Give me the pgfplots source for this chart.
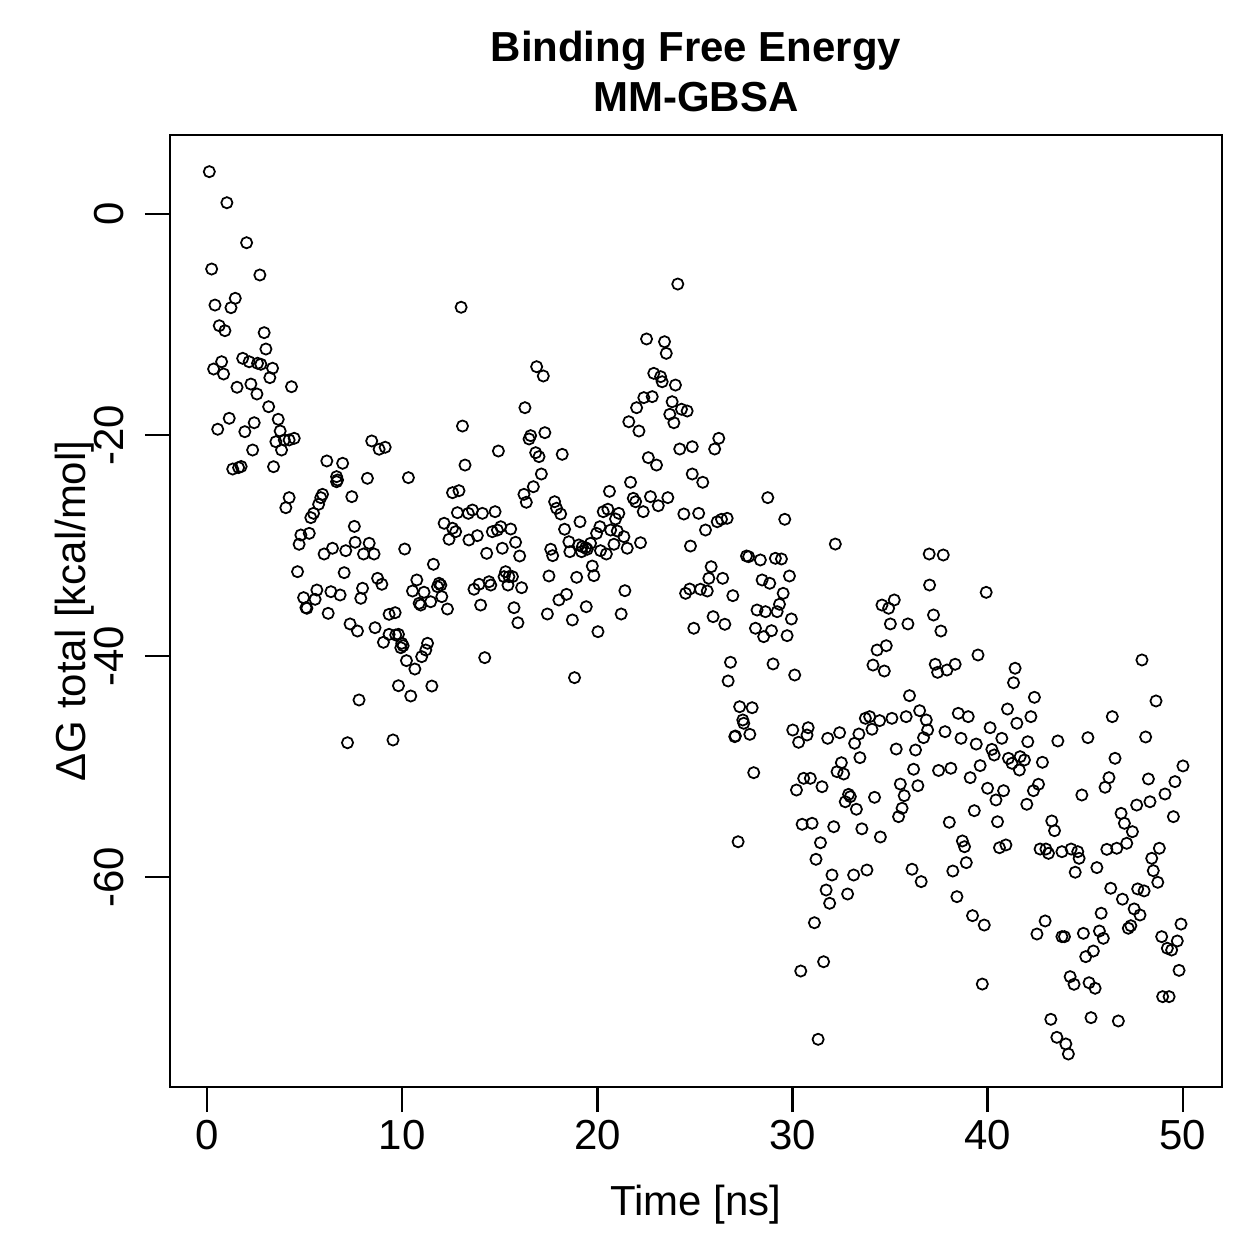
\documentclass[border=0pt]{standalone}
\usepackage{fontspec}
\setmainfont{Liberation Sans}
\usepackage{pgfplots}
\pgfplotsset{compat=1.18}
\begin{document}
\begin{tikzpicture}
\path[use as bounding box] (0,0) rectangle (360pt,360pt);
\begin{axis}[
  at={(48.6pt,49.2pt)}, anchor=south west,
  width=300.8pt, height=272.2pt, scale only axis,
  xmin=-1.896, xmax=51.996, ymin=-79.0, ymax=7.15,
  axis line style={line width=0.75pt},
  tick style={line width=0.75pt, black},
  tick align=outside, major tick length=7.2pt,
  xtick={0,10,20,30,40,50}, ytick={-60,-40,-20,0},
  xtick pos=left, ytick pos=left,
  xticklabels={0,10,20,30,40,50},
  yticklabels={-60,-40,-20,0},
  font=\fontsize{12}{14.4}\selectfont,
  xticklabel style={anchor=center, yshift=-6.5pt},
  yticklabel style={rotate=90, anchor=center, yshift=10.3pt},
  xlabel={Time [ns]},
  ylabel={ΔG total [kcal/mol]},
  xlabel style={at={(axis description cs:0.5,-0.1235)}, anchor=center},
  ylabel style={at={(axis description cs:-0.0903,0.5)}, anchor=center},
  title={Binding Free Energy\\MM-GBSA},
  title style={at={(axis description cs:0.5,1.0662)}, anchor=center, yshift=-6pt, align=center, font=\bfseries\fontsize{12}{14.3}\selectfont},
]
\addplot[only marks, mark=o, mark size=1.6pt, mark options={line width=0.5pt, black}] table {
x y
0.12 3.83
1.02 1.02
2.03 -2.60
0.24 -4.98
2.71 -5.52
1.45 -7.63
0.41 -8.24
1.23 -8.48
0.63 -10.11
0.92 -10.56
2.93 -10.74
3.02 -12.22
1.83 -13.06
2.16 -13.37
0.75 -13.37
0.34 -14.03
0.85 -14.48
2.59 -13.51
2.76 -13.60
3.36 -13.96
3.22 -14.81
1.54 -15.68
2.25 -15.39
2.56 -16.29
4.33 -15.63
3.16 -17.44
1.14 -18.49
0.55 -19.48
2.42 -18.89
1.94 -19.70
3.65 -18.58
3.75 -19.64
3.53 -20.61
3.96 -20.45
4.21 -20.45
4.47 -20.30
3.82 -21.36
2.34 -21.36
1.32 -23.08
1.62 -22.95
1.75 -22.85
3.41 -22.87
6.14 -22.35
6.95 -22.56
6.64 -23.77
6.69 -24.07
6.64 -24.23
8.22 -23.92
4.21 -25.67
4.04 -26.58
5.92 -25.37
5.83 -25.67
5.72 -26.27
5.46 -27.09
5.32 -27.48
7.42 -25.58
7.55 -28.27
4.81 -29.05
5.24 -28.90
4.72 -29.89
7.59 -29.71
6.43 -30.25
6.00 -30.77
7.11 -30.47
8.02 -30.77
4.64 -32.37
7.03 -32.46
5.63 -34.03
4.95 -34.72
5.54 -34.87
5.07 -35.63
5.12 -35.68
6.35 -34.18
6.82 -34.48
7.97 -33.87
7.88 -34.78
6.21 -36.14
7.33 -37.10
7.71 -37.74
7.79 -43.98
7.20 -47.85
13.02 -8.44
16.29 -17.53
13.09 -19.19
16.50 -20.36
16.58 -20.06
8.44 -20.54
8.82 -21.29
9.13 -21.11
14.93 -21.45
13.22 -22.72
10.32 -23.86
12.58 -25.22
12.91 -25.04
16.24 -25.37
16.36 -26.09
12.83 -27.03
13.39 -27.09
13.60 -26.79
14.11 -27.09
14.76 -26.94
12.15 -27.99
12.58 -28.44
12.74 -28.75
12.40 -29.44
13.42 -29.50
13.85 -29.11
14.62 -28.75
14.88 -28.60
15.05 -28.30
15.56 -28.51
15.13 -30.25
15.81 -29.71
16.02 -30.95
14.33 -30.71
8.31 -29.80
8.56 -30.77
10.13 -30.32
11.60 -31.70
8.74 -32.97
8.96 -33.51
10.75 -33.12
10.53 -34.12
11.12 -34.23
11.89 -33.42
11.81 -33.73
11.98 -33.58
12.03 -34.63
11.46 -35.09
10.87 -35.23
10.95 -35.39
12.32 -35.75
9.33 -36.23
9.64 -36.08
13.68 -33.96
13.94 -33.51
14.45 -33.28
14.54 -33.58
15.30 -32.37
15.22 -32.82
15.47 -32.82
15.65 -32.82
15.42 -33.58
16.12 -33.82
14.02 -35.39
15.73 -35.63
15.93 -36.99
8.61 -37.44
9.04 -38.76
9.33 -38.04
9.67 -38.10
9.81 -38.04
9.98 -38.85
10.05 -39.07
9.93 -39.25
11.30 -38.85
11.21 -39.46
11.00 -40.06
10.22 -40.42
10.65 -41.18
14.23 -40.15
9.81 -42.69
10.44 -43.62
11.52 -42.72
9.53 -47.60
24.12 -6.34
22.52 -11.31
23.44 -11.56
23.53 -12.61
16.89 -13.82
17.23 -14.66
22.89 -14.42
23.24 -14.72
23.32 -15.18
24.00 -15.48
22.38 -16.62
22.81 -16.53
22.01 -17.53
23.83 -16.99
23.71 -18.13
23.92 -18.89
24.31 -17.67
24.60 -17.83
21.61 -18.80
22.13 -19.64
17.31 -19.79
16.84 -21.60
17.01 -21.96
18.20 -21.75
17.13 -23.53
24.22 -21.27
24.86 -21.06
22.61 -22.05
23.03 -22.72
21.70 -24.28
20.62 -25.10
16.72 -24.68
24.86 -23.53
17.81 -26.04
17.91 -26.63
18.12 -27.15
21.84 -25.73
21.96 -26.04
22.35 -26.94
22.72 -25.58
23.12 -26.40
23.61 -25.67
24.43 -27.15
25.19 -27.09
20.30 -26.94
20.54 -26.72
21.10 -27.09
20.93 -27.60
19.11 -27.85
18.32 -28.53
20.13 -28.30
19.96 -28.90
20.68 -28.60
21.02 -28.69
21.36 -29.20
18.54 -29.66
19.05 -29.95
19.23 -30.11
19.40 -30.20
19.65 -29.80
19.48 -30.34
18.59 -30.56
19.19 -30.56
17.61 -30.34
17.71 -30.92
20.16 -30.47
20.46 -30.77
20.85 -29.89
21.53 -30.25
22.21 -29.75
24.77 -30.05
19.74 -31.86
19.82 -32.73
17.52 -32.76
18.94 -32.88
21.41 -34.09
18.42 -34.42
18.03 -34.93
24.52 -34.33
24.73 -33.94
19.43 -35.54
17.44 -36.20
18.72 -36.74
21.22 -36.20
20.03 -37.80
24.94 -37.49
18.83 -41.96
26.22 -20.30
26.01 -21.27
25.40 -24.28
28.73 -25.67
25.54 -28.60
26.14 -27.85
26.36 -27.63
26.65 -27.54
29.60 -27.63
32.19 -29.87
27.64 -30.95
27.75 -31.01
28.35 -31.31
29.12 -31.16
29.43 -31.22
25.83 -31.92
25.71 -32.97
26.42 -32.97
28.44 -33.12
28.83 -33.42
29.84 -32.76
25.28 -33.96
25.63 -34.12
26.94 -34.54
29.52 -34.33
29.33 -35.32
29.21 -35.99
28.18 -35.84
28.61 -35.99
29.94 -36.65
25.93 -36.44
26.53 -37.13
28.10 -37.49
28.52 -38.25
28.92 -37.71
29.72 -38.16
26.82 -40.57
29.00 -40.72
26.70 -42.26
30.11 -41.72
27.29 -44.59
27.93 -44.68
27.45 -45.79
27.50 -46.09
27.04 -47.30
27.07 -47.24
27.81 -47.09
28.01 -50.56
30.01 -46.70
30.31 -47.81
30.80 -46.49
30.74 -47.15
31.80 -47.45
32.41 -46.94
33.18 -47.90
33.40 -47.06
33.73 -45.64
33.45 -49.20
32.50 -49.66
32.28 -50.47
32.62 -50.68
30.57 -51.07
30.91 -51.07
30.20 -52.13
31.51 -51.83
32.87 -52.52
32.96 -52.73
32.70 -53.19
33.27 -53.87
33.55 -55.64
30.49 -55.23
31.00 -55.14
32.11 -55.45
27.21 -56.81
31.43 -56.90
31.20 -58.40
32.02 -59.82
33.13 -59.82
31.72 -61.18
31.90 -62.38
32.82 -61.54
31.12 -64.14
31.59 -67.67
30.42 -68.51
31.31 -74.69
37.00 -30.77
37.72 -30.86
37.02 -33.58
39.92 -34.24
34.58 -35.39
34.92 -35.68
35.21 -34.93
37.22 -36.29
35.01 -37.10
35.91 -37.10
37.60 -37.74
34.33 -39.46
34.80 -39.07
39.50 -39.91
34.12 -40.82
34.70 -41.36
37.31 -40.75
37.43 -41.48
37.91 -41.27
38.33 -40.75
41.40 -41.11
41.32 -42.42
35.99 -43.59
36.51 -44.95
36.85 -45.79
36.92 -46.70
36.71 -47.39
33.95 -45.49
34.46 -45.85
34.07 -46.63
35.09 -45.64
35.82 -45.49
37.81 -46.85
38.49 -45.19
39.00 -45.49
41.01 -44.80
41.49 -46.09
40.12 -46.49
40.72 -47.45
38.63 -47.45
39.41 -47.97
35.31 -48.42
36.30 -48.51
40.21 -48.45
40.33 -48.96
41.06 -49.26
41.24 -49.71
41.66 -49.11
41.62 -50.32
42.05 -47.76
41.88 -49.41
39.61 -49.92
37.48 -50.36
38.11 -50.16
36.20 -50.25
39.10 -51.01
35.52 -51.59
35.72 -52.64
36.42 -51.74
39.99 -51.97
40.81 -52.19
40.42 -53.03
34.20 -52.79
35.61 -53.78
35.43 -54.54
39.31 -54.00
40.50 -55.00
38.03 -55.05
42.00 -53.42
34.50 -56.38
38.70 -56.74
38.81 -57.26
40.60 -57.35
40.93 -57.10
33.81 -59.37
36.12 -59.30
36.59 -60.42
38.21 -59.46
38.90 -58.70
38.42 -61.78
39.22 -63.50
39.82 -64.35
39.72 -69.69
47.90 -40.36
48.62 -44.07
42.39 -43.74
42.21 -45.49
46.38 -45.49
48.09 -47.33
45.13 -47.39
43.59 -47.69
46.52 -49.26
42.80 -49.62
50.00 -49.95
49.59 -51.37
48.23 -51.13
49.08 -52.49
48.31 -53.19
47.63 -53.49
46.21 -51.01
46.01 -51.88
42.60 -51.61
42.34 -52.19
44.82 -52.58
49.51 -54.54
46.83 -54.24
47.00 -55.14
47.41 -55.90
47.12 -56.95
43.28 -54.93
43.42 -55.81
42.68 -57.47
42.98 -57.47
43.11 -57.86
43.80 -57.71
44.27 -57.47
44.61 -57.71
44.68 -58.31
46.10 -57.50
46.61 -57.40
48.79 -57.40
48.40 -58.31
44.48 -59.57
45.59 -59.15
48.48 -59.43
48.71 -60.48
46.30 -61.02
46.90 -62.01
47.68 -61.08
48.01 -61.26
45.81 -63.28
47.50 -62.89
47.80 -63.44
42.94 -63.98
42.52 -65.16
43.80 -65.40
43.93 -65.40
44.90 -65.10
45.72 -64.89
45.92 -65.55
47.20 -64.64
47.33 -64.41
49.90 -64.26
48.91 -65.40
49.71 -65.79
49.20 -66.45
49.42 -66.61
45.41 -66.70
45.02 -67.21
49.80 -68.45
44.22 -69.02
44.42 -69.71
45.19 -69.57
45.50 -70.07
48.96 -70.83
49.29 -70.83
43.23 -72.88
45.29 -72.73
46.69 -73.03
43.54 -74.51
44.00 -75.11
44.13 -76.02
};
\end{axis}
\end{tikzpicture}
\end{document}
